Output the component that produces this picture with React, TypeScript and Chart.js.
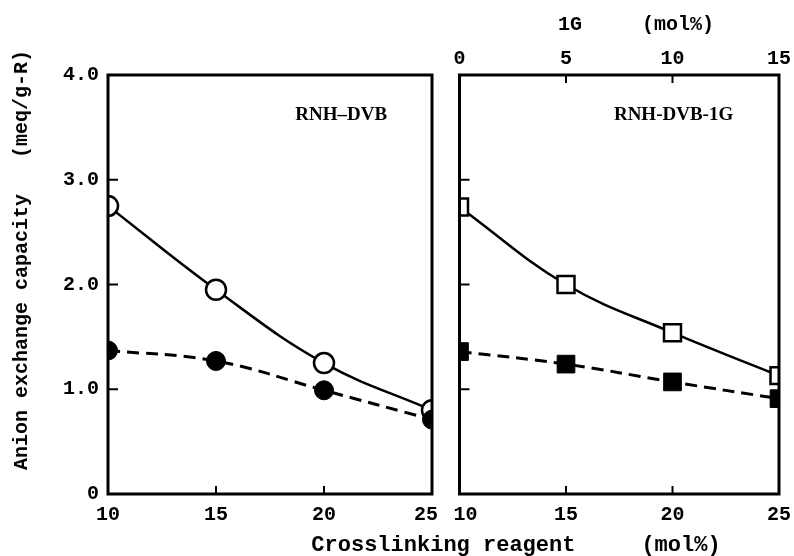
import React, { useEffect, useRef } from 'react';
import { Chart, registerables } from 'chart.js';
Chart.register(...registerables);

const crosslinkMol = [10, 15, 20, 25];
const dvbOpen = [2.75, 1.95, 1.25, 0.8];
const dvbFilled = [1.37, 1.27, 0.99, 0.71];
const dvb1gOpen = [2.74, 2.0, 1.54, 1.13];
const dvb1gFilled = [1.36, 1.24, 1.07, 0.91];
const yRange = [0, 4];
const xRange = [10, 25];
const topRange = [0, 15];
const panelLabels = ['RNH\u2013DVB', 'RNH-DVB-1G'];
const panelLabelPos = [
  [20.8, 3.62],
  [20.05, 3.62],
];
const yTitle = 'Anion exchange capacity   (meq/g-R)';
const xTitle = 'Crosslinking reagent     (mol%)';
const topTitle = '1G     (mol%)';

const tickFont = { family: '"Liberation Mono", monospace', weight: 'bold' as const, size: 20 };

const framePlugin = {
  id: 'frame',
  afterDatasetsDraw(chart: any, _args: any, opts: any) {
    const { ctx, chartArea: a } = chart;
    ctx.save();
    ctx.strokeStyle = '#000';
    ctx.lineWidth = 3;
    ctx.strokeRect(a.left, a.top, a.right - a.left, a.bottom - a.top);
    ctx.lineWidth = 2;
    for (const id of opts.tickScales || []) {
      const s = chart.scales[id];
      s.ticks.forEach((t: any) => {
        if (t.value === s.min || t.value === s.max) return;
        const p = s.getPixelForValue(t.value);
        ctx.beginPath();
        if (s.axis === 'y') {
          ctx.moveTo(a.left, p);
          ctx.lineTo(a.left + 10, p);
        } else if (s.position === 'top') {
          ctx.moveTo(p, a.top);
          ctx.lineTo(p, a.top + 8);
        } else {
          ctx.moveTo(p, a.bottom);
          ctx.lineTo(p, a.bottom - 8);
        }
        ctx.stroke();
      });
    }
    if (opts.label) {
      ctx.font = 'bold 19px "Liberation Serif", serif';
      ctx.textAlign = 'center';
      ctx.textBaseline = 'middle';
      ctx.fillStyle = '#000';
      ctx.fillText(
        opts.label.text,
        chart.scales.x.getPixelForValue(opts.label.x),
        chart.scales.y.getPixelForValue(opts.label.y)
      );
    }
    ctx.restore();
  },
};

function makeDatasets(open: number[], filled: number[], square: boolean) {
  return [
    {
      data: crosslinkMol.map((x, i) => ({ x, y: filled[i] })),
      borderColor: '#000',
      borderWidth: 3,
      borderDash: [12, 7],
      tension: 0.4,
      pointStyle: square ? 'rect' : 'circle',
      pointRadius: square ? 12.5 : 9.5,
      pointBackgroundColor: '#000',
      pointBorderColor: '#000',
      pointBorderWidth: 1,
    },
    {
      data: crosslinkMol.map((x, i) => ({ x, y: open[i] })),
      borderColor: '#000',
      borderWidth: 2.5,
      tension: 0.4,
      pointStyle: square ? 'rect' : 'circle',
      pointRadius: square ? 12 : 10,
      pointBackgroundColor: '#fff',
      pointBorderColor: '#000',
      pointBorderWidth: 2.5,
    },
  ];
}

const noGrid = { display: false, drawTicks: false };
const noBorder = { display: false };

function fixHeight(h: number) {
  return (s: any) => {
    s.height = h;
    s.paddingLeft = 0;
    s.paddingRight = 0;
  };
}

export default function App() {
  const leftRef = useRef<HTMLCanvasElement>(null);
  const rightRef = useRef<HTMLCanvasElement>(null);

  useEffect(() => {
    const left = new Chart(leftRef.current!, {
      type: 'line',
      data: { datasets: makeDatasets(dvbOpen, dvbFilled, false) as any },
      options: {
        responsive: false,
        animation: false,
        layout: { padding: { top: 75, right: 13, left: 0, bottom: 0 } },
        plugins: {
          legend: { display: false },
          tooltip: { enabled: false },
          frame: {
            tickScales: ['x', 'y'],
            label: { text: panelLabels[0], x: panelLabelPos[0][0], y: panelLabelPos[0][1] },
          },
        } as any,
        scales: {
          x: {
            type: 'linear',
            min: xRange[0],
            max: xRange[1],
            ticks: {
              stepSize: 5,
              padding: 9,
              color: '#000',
              font: tickFont,
              maxRotation: 0,
              callback: (v: any) => (v === xRange[1] ? String(v) + ' ' : String(v)),
            },
            grid: noGrid,
            border: noBorder,
            afterFit: fixHeight(62),
          },
          y: {
            min: yRange[0],
            max: yRange[1],
            ticks: {
              stepSize: 1,
              padding: 9,
              color: '#000',
              font: tickFont,
              callback: (v: any) => (v === 0 ? '0' : Number(v).toFixed(1)),
            },
            grid: noGrid,
            border: noBorder,
            afterFit: (s: any) => {
              s.width = 108;
              s.paddingTop = 0;
              s.paddingBottom = 0;
            },
          },
        },
      },
      plugins: [framePlugin],
    });

    const right = new Chart(rightRef.current!, {
      type: 'line',
      data: { datasets: makeDatasets(dvb1gOpen, dvb1gFilled, true) as any },
      options: {
        responsive: false,
        animation: false,
        layout: { padding: { top: 0, right: 15, left: 0, bottom: 0 } },
        plugins: {
          legend: { display: false },
          tooltip: { enabled: false },
          frame: {
            tickScales: ['x', 'x2', 'y'],
            label: { text: panelLabels[1], x: panelLabelPos[1][0], y: panelLabelPos[1][1] },
          },
        } as any,
        scales: {
          x: {
            type: 'linear',
            min: xRange[0],
            max: xRange[1],
            ticks: {
              stepSize: 5,
              padding: 9,
              color: '#000',
              font: tickFont,
              maxRotation: 0,
              callback: (v: any) => (v === xRange[0] ? ' ' + String(v) : String(v)),
            },
            grid: noGrid,
            border: noBorder,
            afterFit: fixHeight(62),
          },
          x2: {
            type: 'linear',
            position: 'top',
            min: topRange[0],
            max: topRange[1],
            ticks: { stepSize: 5, padding: 4, color: '#000', font: tickFont, maxRotation: 0 },
            grid: noGrid,
            border: noBorder,
            afterFit: fixHeight(75),
          },
          y: {
            min: yRange[0],
            max: yRange[1],
            ticks: { stepSize: 1, display: false },
            grid: noGrid,
            border: noBorder,
            afterFit: (s: any) => {
              s.width = 13;
              s.paddingTop = 0;
              s.paddingBottom = 0;
            },
          },
        },
      },
      plugins: [framePlugin],
    });

    return () => {
      left.destroy();
      right.destroy();
    };
  }, []);

  const titleStyle: React.CSSProperties = {
    position: 'absolute',
    fontFamily: '"Liberation Mono", monospace',
    fontWeight: 'bold',
    whiteSpace: 'pre',
    color: '#000',
    lineHeight: 1,
  };

  return (
    <div style={{ position: 'fixed', left: 0, top: 0, width: 794, height: 556, background: '#fff', overflow: 'hidden' }}>
      <canvas ref={leftRef} width={445} height={556} style={{ position: 'absolute', left: 0, top: 0 }} />
      <canvas ref={rightRef} width={349} height={556} style={{ position: 'absolute', left: 445, top: 0 }} />
      <div
        style={{
          ...titleStyle,
          fontSize: 20,
          left: 22,
          top: 260,
          transform: 'translate(-50%, -50%) rotate(-90deg)',
        }}
      >
        {yTitle}
      </div>
      <div style={{ ...titleStyle, fontSize: 22, left: 516, top: 546, transform: 'translate(-50%, -50%)' }}>
        {xTitle}
      </div>
      <div style={{ ...titleStyle, fontSize: 20, left: 558, top: 25, transform: 'translate(0, -50%)' }}>
        {topTitle}
      </div>
    </div>
  );
}
